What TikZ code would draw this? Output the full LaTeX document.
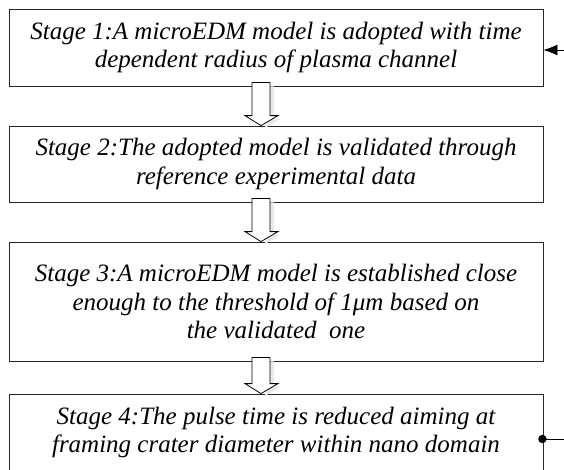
\documentclass[tikz,border=0pt]{standalone}
\usepackage{fontspec}
\setmainfont{Liberation Serif}
\usetikzlibrary{arrows.meta,calc}
\newcommand{\stagefont}{\fontsize{25pt}{28.5pt}\selectfont\itshape}
\definecolor{shadowbeige}{RGB}{236,232,220}
\tikzset{
  stagebox/.style={draw=black!85, line width=0.8pt, minimum width=534pt, inner sep=0pt, align=center, font=\stagefont},
  blockarr/.style={draw=black, line width=0.8pt, fill=white},
  loopline/.style={draw=black, line width=0.8pt}
}
\begin{document}
\begin{tikzpicture}
    \useasboundingbox (0,0) rectangle (564pt,-469pt);

    \node[stagebox, minimum height=77pt] (s1) at (276pt,-47.5pt)
      {Stage 1:A microEDM model is adopted with time\\dependent radius of plasma channel};
    \node[stagebox, minimum height=76pt] (s2) at (276pt,-164pt)
      {Stage 2:The adopted model is validated through\\reference experimental data};
    \node[stagebox, minimum height=119pt] (s3) at (276pt,-301.5pt)
      {Stage 3:A microEDM model is established close\\enough to the threshold of 1μm based on\\the validated\ \ one};
    \node[stagebox, minimum height=77pt] (s4) at (276pt,-432.5pt)
      {Stage 4:The pulse time is reduced aiming at\\framing crater diameter within nano domain};

    % hollow arrows between the stages
    \foreach \a/\b in {s1/s2, s2/s3, s3/s4}
      {
        \fill[shadowbeige] let \p1=(\a.south), \p2=(\b.north) in
          (270pt,\y1) -- (274pt,\y1) -- (274pt,\y2+7pt) -- (281pt,\y2+7pt)
          -- (264pt,\y2-3pt) -- (270pt,\y2+7pt) -- cycle;
        \draw[blockarr] let \p1=(\a.south), \p2=(\b.north) in
          (252pt,\y1+4pt) -- (252pt,\y2+10pt) -- (245pt,\y2+10pt) -- (261pt,\y2)
          -- (278pt,\y2+10pt) -- (270pt,\y2+10pt) -- (270pt,\y1+4pt) -- cycle;
      }

    % loop back on the right
    \coordinate (back1) at (564pt,-50pt);
    \coordinate (back4) at (564pt,-439pt);
    \draw[loopline, -{Latex[length=14pt,width=11pt]}] (back1) -- ([yshift=-2.5pt]s1.east);
    \draw[loopline] ([yshift=-6.5pt]s4.east) -- (back4);
    \fill ([yshift=-6.5pt,xshift=-1pt]s4.east) circle (4.2pt);
\end{tikzpicture}
\end{document}
